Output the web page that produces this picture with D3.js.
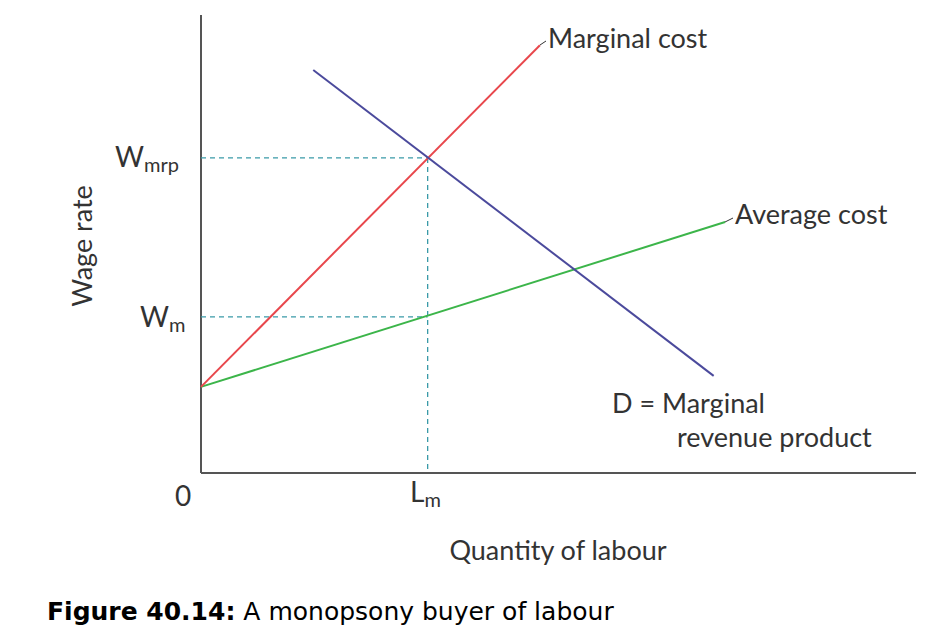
<!DOCTYPE html>
<html><head><meta charset="utf-8">
<script src="https://cdn.jsdelivr.net/npm/d3@7"></script>
<style>body{margin:0;background:#fff}</style></head>
<body><svg id="c" width="944" height="635"></svg>
<script>
const mcLine=[[0,18.8],[47.4,93.4]];
const acLine=[[0,18.8],[73.3,54.8]];
const dLine=[[15.7,88.0],[71.7,21.2]];
const Lm=31.7, Wmrp=68.8, Wm=34.1;
const svg=d3.select("#c");
const x=d3.scaleLinear().domain([0,100]).range([201,916]);
const y=d3.scaleLinear().domain([0,100]).range([473,15]);
const line=d3.line().x(d=>x(d[0])).y(d=>y(d[1]));
const F="Lato, 'Open Sans', sans-serif", col="#333";
svg.append("line").attr("x1",x(0)).attr("x2",x(0)).attr("y1",y(100)).attr("y2",y(0)).attr("stroke","#555").attr("stroke-width",2);
svg.append("line").attr("x1",x(0)).attr("x2",x(100)).attr("y1",y(0)).attr("y2",y(0)).attr("stroke","#555").attr("stroke-width",2);
const dash={stroke:"#3a9aa8","stroke-width":1.3,"stroke-dasharray":"5,4"};
function dl(a,b,c,d){const l=svg.append("line").attr("x1",a).attr("y1",b).attr("x2",c).attr("y2",d);for(const k in dash)l.attr(k,dash[k]);}
dl(x(0),y(Wmrp),x(Lm),y(Wmrp));dl(x(0),y(Wm),x(Lm),y(Wm));dl(x(Lm),y(Wmrp),x(Lm),y(0));
svg.append("path").attr("d",line(acLine)).attr("stroke","#3cb54a").attr("stroke-width",2).attr("fill","none");
svg.append("path").attr("d",line(mcLine)).attr("stroke","#e8474c").attr("stroke-width",2).attr("fill","none");
svg.append("path").attr("d",line(dLine)).attr("stroke","#4b4a9c").attr("stroke-width",2).attr("fill","none");
function t(s,px,py,anchor,size){return svg.append("text").attr("x",px).attr("y",py).attr("text-anchor",anchor||"start").attr("font-family",F).attr("font-size",size||27).attr("fill",col).text(s);}
t("Marginal cost",548,48);
t("Average cost",735,224);
t("D = Marginal",612,413);
t("revenue product",677,447);
svg.append("line").attr("x1",540).attr("y1",45).attr("x2",546).attr("y2",41).attr("stroke",col);
svg.append("line").attr("x1",725).attr("y1",222).attr("x2",733).attr("y2",218).attr("stroke",col);
const wmrp=t("W",115,167,"start",28);wmrp.append("tspan").attr("font-size",20).attr("dy",5).text("mrp");
const wm=t("W",140,327,"start",28);wm.append("tspan").attr("font-size",20).attr("dy",5).text("m");
const lm=t("L",410,502,"start",28);lm.append("tspan").attr("font-size",20).attr("dy",5).text("m");
t("0",183,506,"middle",28);
t("Quantity of labour",558,560,"middle",27);
svg.append("text").attr("transform","translate(92,246) rotate(-90)").attr("text-anchor","middle").attr("font-family",F).attr("font-size",27).attr("fill",col).text("Wage rate");
const ti=svg.append("text").attr("x",47).attr("y",620).attr("font-family","'DejaVu Sans', Verdana, sans-serif").attr("font-size",25).attr("fill","#000");
ti.append("tspan").attr("font-weight","bold").text("Figure 40.14:");
ti.append("tspan").text(" A monopsony buyer of labour");
</script></body></html>
